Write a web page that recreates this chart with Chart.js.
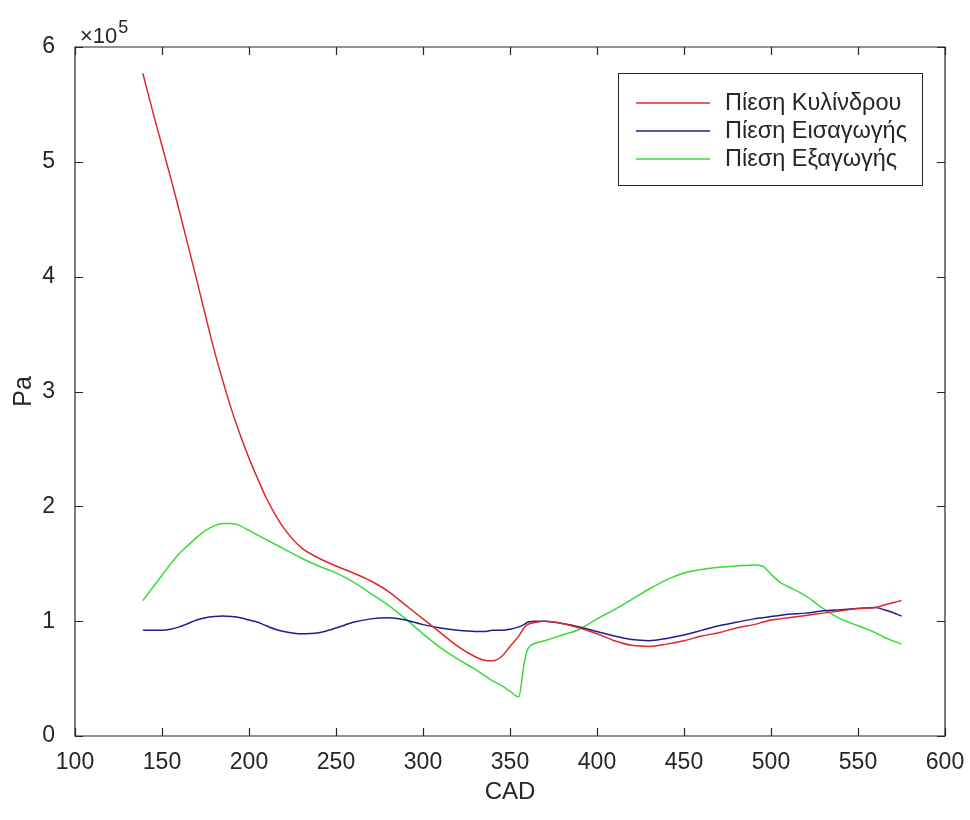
<!DOCTYPE html>
<html>
<head>
<meta charset="utf-8">
<script src="https://cdn.jsdelivr.net/npm/chart.js@4/dist/chart.umd.min.js"></script>
<style>
  html, body { margin: 0; padding: 0; background: #ffffff; }
  #wrap { width: 970px; height: 820px; }
</style>
</head>
<body>
<div id="wrap"><canvas id="c" width="970" height="820"></canvas></div>
<script>
// Crank angle (degrees)
const cad = [139,145,150,155,160,165,170,175,180,185,
             190,195,200,205,210,215,220,230,240,250,
             260,270,280,290,300,310,320,330,335,340,
             345,350,355,358,360,365,370,380,390,400,
             410,420,430,440,450,460,470,480,490,495,
             500,505,510,520,530,540,550,560,565,570,
             575];

// Cylinder pressure (Pa)
const cylinderPa = [577000,542000,514000,486000,457000,427000,397000,366000,336000,309000,
                    284000,262000,242000,224000,207000,193000,181000,164000,155000,148000,
                    142000,135000,126000,114000,102000,90000,78000,69000,66000,65500,
                    69000,78000,87000,94000,97000,99000,100000,98000,94000,89000,
                    83000,79000,78000,80000,83000,87000,90000,94000,97000,99000,
                    101000,102000,103000,105000,107000,109000,111000,112000,114000,116000,
                    118000];

// Intake pressure (Pa)
const intakePa = [92000,92000,92000,93000,95000,98000,101000,103000,104000,104500,
                  104000,103000,101000,99000,96000,93000,91000,89000,90000,94000,
                  99000,102000,103000,101000,97000,94000,92000,91000,91000,92000,
                  92000,93000,95000,97000,99000,100000,100000,98000,95000,91000,
                  87000,84000,83000,85000,88000,92000,96000,99000,102000,103000,
                  104000,105000,106000,107000,109000,110000,111000,112000,110000,107500,
                  104500];

// Exhaust pressure (Pa)
const exhaustPa = [118000,130000,140000,150000,159000,166000,173000,179000,183000,185000,
                   185000,183000,179000,175000,171000,167000,163000,155000,148000,142000,
                   134000,124000,114000,102000,89000,77000,67000,58000,53000,48000,
                   44000,39000,34000,62000,75000,81000,83000,88000,93000,102000,
                   110000,119000,128000,136000,142000,145000,147000,148000,149000,148000,
                   141000,134000,130000,122000,111000,102000,96000,90000,86000,83000,
                   80000];

const seriesNames = ['Πίεση Κυλίνδρου', 'Πίεση Εισαγωγής', 'Πίεση Εξαγωγής'];
const seriesColors = ['#dc2a2a', '#1e1e8c', '#38dc38'];

const xTicks = [100,150,200,250,300,350,400,450,500,550,600];
const yTicks = [0,100000,200000,300000,400000,500000,600000];
const yExponent = 5;

const INK = '#262626';
const FONT = '"Liberation Sans", Arial, Helvetica, sans-serif';

function points(values) {
  return cad.map((x, i) => ({ x: x, y: values[i] }));
}

// Box frame with inward tick marks on all four sides
const boxAxes = {
  id: 'boxAxes',
  afterDatasetsDraw(chart) {
    const { ctx, chartArea: a, scales } = chart;
    const len = 8;
    ctx.save();
    ctx.strokeStyle = INK;
    ctx.lineWidth = 1.2;
    ctx.beginPath();
    ctx.rect(a.left, a.top, a.right - a.left, a.bottom - a.top);
    ctx.stroke();
    ctx.beginPath();
    xTicks.forEach(v => {
      const px = Math.round(scales.x.getPixelForValue(v)) + 0.5;
      ctx.moveTo(px, a.bottom); ctx.lineTo(px, a.bottom - len);
      ctx.moveTo(px, a.top); ctx.lineTo(px, a.top + len);
    });
    yTicks.forEach(v => {
      const py = Math.round(scales.y.getPixelForValue(v)) + 0.5;
      ctx.moveTo(a.left, py); ctx.lineTo(a.left + len, py);
      ctx.moveTo(a.right, py); ctx.lineTo(a.right - len, py);
    });
    ctx.stroke();
    ctx.restore();
  },
  afterDraw(chart) {
    const { ctx, chartArea: a } = chart;
    ctx.save();
    ctx.fillStyle = INK;
    ctx.textBaseline = 'alphabetic';
    ctx.textAlign = 'left';
    ctx.font = '22px ' + FONT;
    const base = '\u00d710';
    ctx.fillText(base, a.left + 5, a.top - 4);
    const w = ctx.measureText(base).width;
    ctx.font = '18px ' + FONT;
    ctx.fillText(String(yExponent), a.left + 6 + w, a.top - 14);
    ctx.restore();
  }
};

// Boxed legend in the upper right of the plot
const boxLegend = {
  id: 'boxLegend',
  afterDraw(chart) {
    const { ctx } = chart;
    const bx = 618, by = 73, bw = 304, bh = 112;
    ctx.save();
    ctx.fillStyle = '#ffffff';
    ctx.fillRect(bx, by, bw, bh);
    ctx.strokeStyle = INK;
    ctx.lineWidth = 1;
    ctx.strokeRect(bx + 0.5, by + 0.5, bw, bh);
    ctx.font = '23.5px ' + FONT;
    ctx.textBaseline = 'middle';
    ctx.textAlign = 'left';
    chart.data.datasets.forEach((ds, i) => {
      const y = by + 30 + i * 28;
      ctx.strokeStyle = ds.borderColor;
      ctx.lineWidth = 1.5;
      ctx.beginPath();
      ctx.moveTo(bx + 18, y); ctx.lineTo(bx + 92, y);
      ctx.stroke();
      ctx.fillStyle = INK;
      ctx.fillText(ds.label, bx + 107, y + 1);
    });
    ctx.restore();
  }
};

const series = [cylinderPa, intakePa, exhaustPa];

new Chart(document.getElementById('c'), {
  type: 'line',
  data: {
    datasets: series.map((vals, i) => ({
      label: seriesNames[i],
      data: points(vals),
      borderColor: seriesColors[i],
      backgroundColor: seriesColors[i],
      borderWidth: 1.5,
      pointRadius: 0,
      fill: false,
      cubicInterpolationMode: 'monotone'
    }))
  },
  options: {
    responsive: false,
    animation: false,
    devicePixelRatio: 1,
    layout: { padding: { top: 47, right: 25, left: 0, bottom: 0 } },
    plugins: { legend: { display: false }, tooltip: { enabled: false } },
    scales: {
      x: {
        type: 'linear',
        min: 100, max: 600,
        afterBuildTicks: s => { s.ticks = xTicks.map(v => ({ value: v })); },
        afterFit: s => { s.height = 84; },
        grid: { display: false },
        border: { display: false },
        ticks: { color: INK, font: { family: FONT, size: 23 }, padding: 5, maxRotation: 0, autoSkip: false },
        title: { display: true, text: 'CAD', color: INK, font: { family: FONT, size: 24 }, padding: { top: 0, bottom: 13 } }
      },
      y: {
        type: 'linear',
        min: 0, max: 600000,
        afterBuildTicks: s => { s.ticks = yTicks.map(v => ({ value: v })); },
        afterFit: s => { s.width = 75; },
        grid: { display: false },
        border: { display: false },
        ticks: { color: INK, font: { family: FONT, size: 23 }, padding: 12, callback: v => String(v / Math.pow(10, yExponent)) },
        title: { display: true, text: 'Pa', color: INK, font: { family: FONT, size: 25 }, padding: { top: 9, bottom: 0 } }
      }
    }
  },
  plugins: [boxAxes, boxLegend]
});
</script>
</body>
</html>
